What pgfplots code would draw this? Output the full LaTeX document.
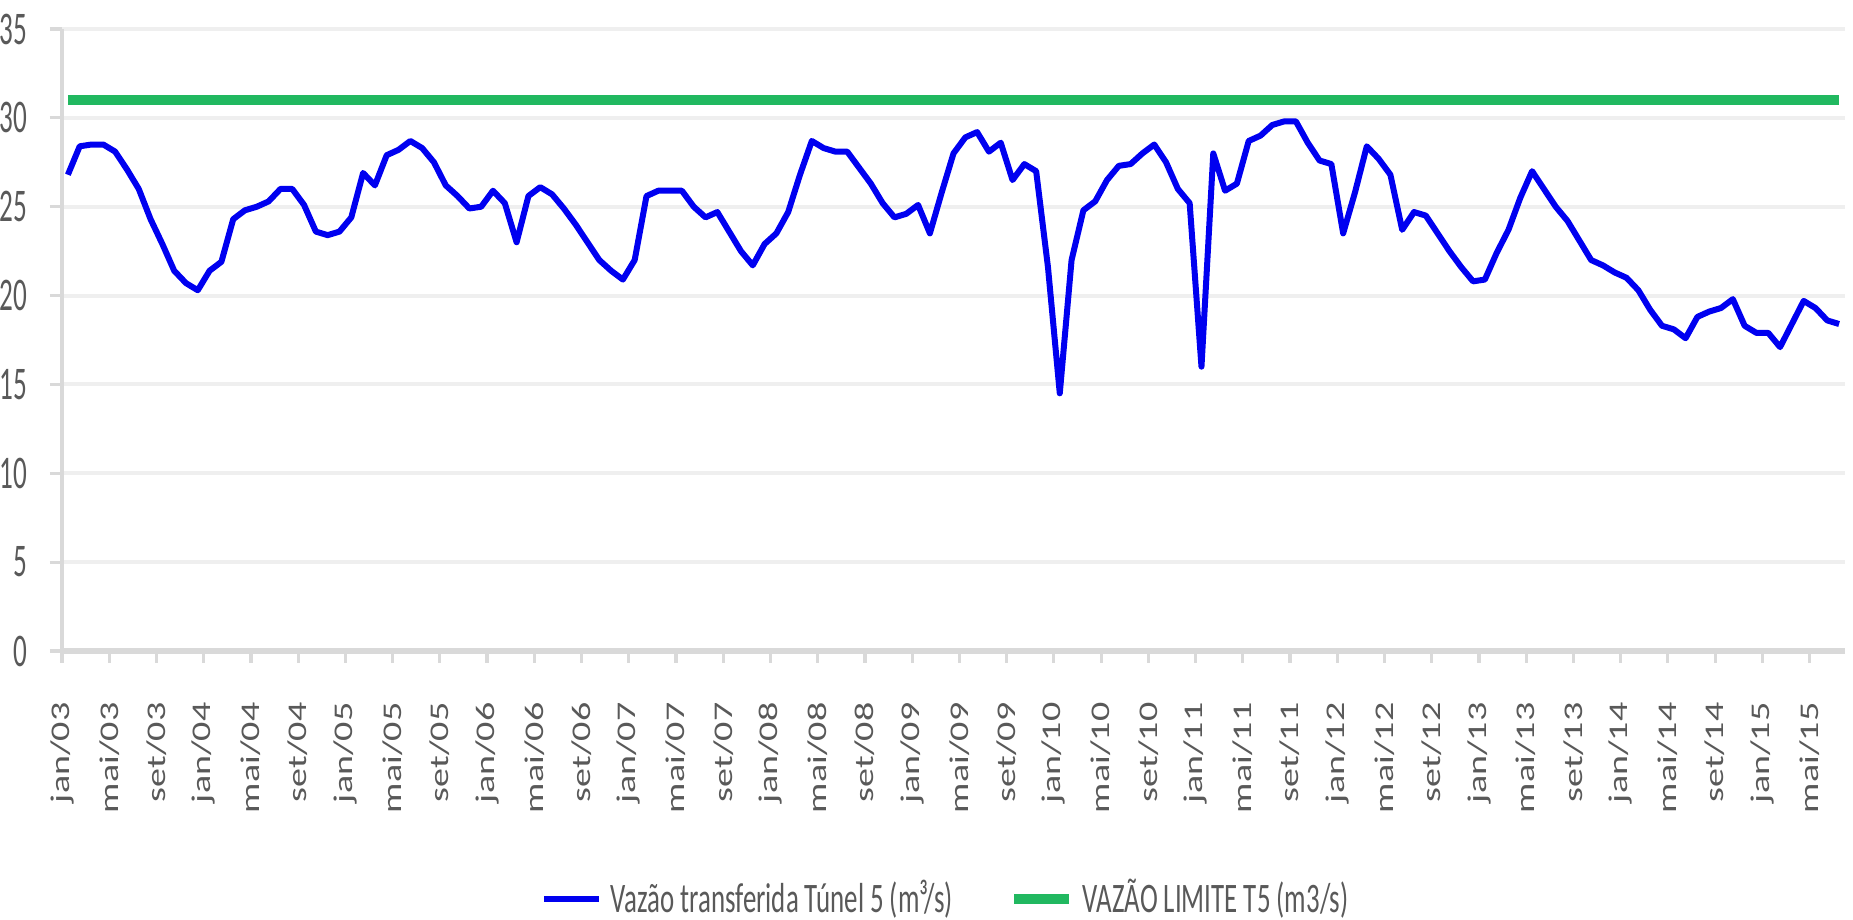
\documentclass[border=0pt]{standalone}
\usepackage{pgfplots}
\pgfplotsset{compat=1.18}
\usepackage{pgfplotstable}
\usepackage{fontspec}
\setmainfont{Carlito}
\definecolor{tickgray}{HTML}{595959}
\definecolor{axisgray}{HTML}{D9D9D9}
\definecolor{gridgray}{HTML}{EFEFEF}
\definecolor{seriesblue}{RGB}{0,0,240}
\definecolor{limitgreen}{RGB}{33,184,96}
\newcommand\xl[1]{\scalebox{1}[0.71]{#1}}

\pgfplotstableread{
m v
0 26.8
1 28.4
2 28.5
3 28.5
4 28.1
5 27.1
6 26.0
7 24.3
8 22.9
9 21.4
10 20.7
11 20.3
12 21.4
13 21.9
14 24.3
15 24.8
16 25.0
17 25.3
18 26.0
19 26.0
20 25.1
21 23.6
22 23.4
23 23.6
24 24.4
25 26.9
26 26.2
27 27.9
28 28.2
29 28.7
30 28.3
31 27.5
32 26.2
33 25.6
34 24.9
35 25.0
36 25.9
37 25.2
38 23.0
39 25.6
40 26.1
41 25.7
42 24.9
43 24.0
44 23.0
45 22.0
46 21.4
47 20.9
48 22.0
49 25.6
50 25.9
51 25.9
52 25.9
53 25.0
54 24.4
55 24.7
56 23.6
57 22.5
58 21.7
59 22.9
60 23.5
61 24.7
62 26.8
63 28.7
64 28.3
65 28.1
66 28.1
67 27.2
68 26.3
69 25.2
70 24.4
71 24.6
72 25.1
73 23.5
74 25.8
75 28.0
76 28.9
77 29.2
78 28.1
79 28.6
80 26.5
81 27.4
82 27.0
83 21.6
84 14.5
85 22.0
86 24.8
87 25.3
88 26.5
89 27.3
90 27.4
91 28.0
92 28.5
93 27.5
94 26.0
95 25.2
96 16.0
97 28.0
98 25.9
99 26.3
100 28.7
101 29.0
102 29.6
103 29.8
104 29.8
105 28.6
106 27.6
107 27.4
108 23.5
109 25.8
110 28.4
111 27.7
112 26.8
113 23.7
114 24.7
115 24.5
116 23.5
117 22.5
118 21.6
119 20.8
120 20.9
121 22.4
122 23.7
123 25.5
124 27.0
125 26.0
126 25.0
127 24.2
128 23.1
129 22.0
130 21.7
131 21.3
132 21.0
133 20.3
134 19.2
135 18.3
136 18.1
137 17.6
138 18.8
139 19.1
140 19.3
141 19.8
142 18.3
143 17.9
144 17.9
145 17.1
146 18.4
147 19.7
148 19.3
149 18.6
150 18.4
}\vazao

\pgfplotstableread{
m v
0 31
150 31
}\limite

\begin{document}
\begin{tikzpicture}
\path[use as bounding box] (-15.5pt,-67.25pt) rectangle (447.75pt,162.75pt);
\begin{axis}[
  at={(0pt,0pt)}, anchor=south west,
  width=445.75pt, height=155.5pt, scale only axis,
  xmin=-0.5, xmax=150.5, ymin=0, ymax=35,
  axis x line*=bottom, axis y line*=left,
  x axis line style={draw=axisgray, line width=1.5pt, -},
  y axis line style={draw=axisgray, line width=0.9pt, -},
  ytick={0,5,...,35},
  xtick={-0.5,3.5,...,147.5},
  xticklabels={\xl{jan/03},\xl{mai/03},\xl{set/03},\xl{jan/04},\xl{mai/04},\xl{set/04},\xl{jan/05},\xl{mai/05},\xl{set/05},\xl{jan/06},\xl{mai/06},\xl{set/06},\xl{jan/07},\xl{mai/07},\xl{set/07},\xl{jan/08},\xl{mai/08},\xl{set/08},\xl{jan/09},\xl{mai/09},\xl{set/09},\xl{jan/10},\xl{mai/10},\xl{set/10},\xl{jan/11},\xl{mai/11},\xl{set/11},\xl{jan/12},\xl{mai/12},\xl{set/12},\xl{jan/13},\xl{mai/13},\xl{set/13},\xl{jan/14},\xl{mai/14},\xl{set/14},\xl{jan/15},\xl{mai/15}},
  tick align=outside,
  major tick length=3pt,
  tick style={draw=axisgray, line width=0.8pt},
  ymajorgrids,
  major grid style={draw=gridgray, line width=1pt},
  /pgf/number format/assume math mode=true,
  yticklabel={\scalebox{0.58}[1]{\pgfmathprintnumber{\tick}}},
  yticklabel style={anchor=east, inner sep=0pt, font=\fontsize{11.7}{13}\selectfont, text=tickgray},
  yticklabel shift=5.5pt,
  xticklabel style={rotate=90, anchor=east, inner sep=0pt, font=\fontsize{9.5}{11}\selectfont, text=tickgray, xshift=0.8pt},
  xticklabel shift=10.5pt,
  legend style={at={(0.4975,-0.3987)}, anchor=center, draw=none, fill=none,
    legend columns=2, font=\fontsize{10.5}{12}\selectfont, text=tickgray,
    /tikz/every even column/.append style={column sep=12pt}},
  legend image code/.code={\draw[#1] (0pt,0pt) -- (13.75pt,0pt);},
]
\addplot[seriesblue, line width=1.5pt, line join=round] table[x=m,y=v]{\vazao};
\addlegendentry{\scalebox{0.64}[1]{Vazão transferida Túnel 5 (m³/s)}}
\addplot[limitgreen, line width=2.7pt] table[x=m,y=v]{\limite};
\addlegendentry{\scalebox{0.64}[1]{VAZÃO LIMITE T5 (m3/s)}}
\end{axis}
\end{tikzpicture}
\end{document}
